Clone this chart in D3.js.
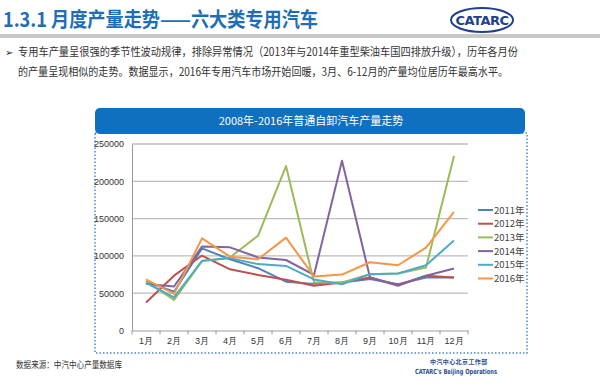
<!DOCTYPE html>
<html>
<head>
<meta charset="utf-8">
<script src="https://cdn.jsdelivr.net/npm/d3@7"></script>
<style>
  body { margin: 0; background: #fff; }
  svg { display: block; font-family: "Noto Sans CJK SC", "Noto Sans", sans-serif; }
</style>
</head>
<body>
<div id="chart"></div>
<script>
// data
const months = ["1月", "2月", "3月", "4月", "5月", "6月", "7月", "8月", "9月", "10月", "11月", "12月"];
const seriesNames = ["2011年", "2012年", "2013年", "2014年", "2015年", "2016年"];
const seriesColors = ["#4F81BD", "#C0504D", "#9BBB59", "#8064A2", "#4BACC6", "#F79646"];
const v2011 = [65500, 52000, 110000, 95500, 83500, 65500, 62500, 64500, 69000, 62000, 71000, 71000];
const v2012 = [37500, 73500, 100500, 82000, 74500, 68000, 60000, 64500, 71000, 61000, 73500, 71000];
const v2013 = [66000, 41000, 93000, 98000, 127000, 220500, 64500, 64500, 75500, 76500, 84500, 234000];
const v2014 = [62500, 59000, 112500, 111500, 98000, 94500, 74500, 227500, 71000, 60000, 73500, 83000];
const v2015 = [64000, 44500, 93500, 97000, 89000, 86500, 68500, 62000, 75500, 76500, 87500, 120500];
const v2016 = [68500, 49000, 123500, 99000, 95500, 124500, 72500, 75000, 91500, 87500, 111000, 159000];
const yTicks = [0, 50000, 100000, 150000, 200000, 250000];

const bulletLines = [
  "专用车产量呈很强的季节性波动规律，排除异常情况（2013年与2014年重型柴油车国四排放升级），历年各月份",
  "的产量呈现相似的走势。数据显示，2016年专用汽车市场开始回暖，3月、6-12月的产量均位居历年最高水平。"
];

const series = [v2011, v2012, v2013, v2014, v2015, v2016].map((values, i) => ({
  name: seriesNames[i], color: seriesColors[i], values
}));

const W = 600, H = 386;
const svg = d3.select("#chart").append("svg").attr("width", W).attr("height", H);

// page title
svg.append("text")
  .attr("x", 3).attr("y", 27)
  .attr("fill", "#1F6DB5")
  .attr("font-size", 20).attr("font-weight", "bold")
  .attr("textLength", 315).attr("lengthAdjust", "spacingAndGlyphs")
  .text("1.3.1 月度产量走势——六大类专用汽车");

svg.append("rect").attr("x", 0).attr("y", 34).attr("width", W).attr("height", 4).attr("fill", "#c8c8c8");

// CATARC logo
const logo = svg.append("g").attr("transform", "translate(482,20)");
logo.append("ellipse").attr("rx", 31).attr("ry", 12)
  .attr("fill", "#fff").attr("stroke", "#1F3F8F").attr("stroke-width", 2);
logo.append("text").attr("text-anchor", "middle").attr("y", 5)
  .attr("font-size", 13).attr("font-weight", "bold").attr("fill", "#1F3F8F")
  .attr("font-family", "DejaVu Sans").attr("letter-spacing", -0.5)
  .text("CATARC");

// bullet paragraph
svg.append("text").attr("x", 5).attr("y", 55.5).attr("font-size", 10)
  .attr("font-family", "DejaVu Sans").attr("fill", "#222").text("➢");
svg.selectAll("text.para").data(bulletLines).join("text")
  .attr("class", "para")
  .attr("x", 18).attr("y", (d, i) => 55.5 + i * 20)
  .attr("font-size", 11.5).attr("fill", "#333")
  .attr("textLength", (d, i) => i === 0 ? 500 : 490)
  .attr("lengthAdjust", "spacingAndGlyphs")
  .text(d => d);

// chart box
const box = { x: 95, y: 108, w: 432, h: 245 };
svg.append("rect")
  .attr("x", box.x).attr("y", 133).attr("width", box.w).attr("height", box.y + box.h - 133)
  .attr("fill", "#fff").attr("stroke", "#4A86D6").attr("stroke-width", 1.5)
  .attr("stroke-dasharray", "1.5,2");
svg.append("rect")
  .attr("x", box.x).attr("y", box.y).attr("width", box.w - 2).attr("height", 26)
  .attr("rx", 5).attr("fill", "#0F70C0");
svg.append("text")
  .attr("x", box.x + box.w / 2).attr("y", 125)
  .attr("text-anchor", "middle").attr("fill", "#fff").attr("font-size", 11)
  .text("2008年-2016年普通自卸汽车产量走势");

// scales
const plot = { left: 132, right: 468, top: 144, bottom: 330.5 };
const x = d3.scaleBand().domain(months).range([plot.left, plot.right]);
const y = d3.scaleLinear().domain([0, 250000]).range([plot.bottom, plot.top]);

// gridlines
svg.append("g").selectAll("line").data(yTicks.slice(1)).join("line")
  .attr("x1", plot.left).attr("x2", plot.right)
  .attr("y1", d => y(d)).attr("y2", d => y(d))
  .attr("stroke", "#bdbdbd").attr("stroke-width", 1.3);

// y axis
const yAxis = svg.append("g")
  .attr("transform", `translate(${plot.left},0)`)
  .call(d3.axisLeft(y).tickValues(yTicks).tickSize(0).tickPadding(8).tickFormat(d3.format("d")));
yAxis.select(".domain").attr("stroke", "#9a9a9a");
yAxis.selectAll("text").attr("font-size", 9).attr("fill", "#333").attr("font-family", "Liberation Sans, Arial, sans-serif");

// x axis
const xAxis = svg.append("g")
  .attr("transform", `translate(0,${plot.bottom})`)
  .call(d3.axisBottom(x).tickSize(0).tickPadding(7));
xAxis.select(".domain").attr("stroke", "#9a9a9a");
xAxis.selectAll("text").attr("font-size", 9).attr("fill", "#333");
xAxis.selectAll("line.bnd").data(months.concat([null])).join("line")
  .attr("class", "bnd")
  .attr("x1", (d, i) => plot.left + i * x.bandwidth())
  .attr("x2", (d, i) => plot.left + i * x.bandwidth())
  .attr("y1", 0).attr("y2", 4)
  .attr("stroke", "#9a9a9a");

// lines
const line = d3.line()
  .x((d, i) => x(months[i]) + x.bandwidth() / 2)
  .y(d => y(d));
svg.append("g").selectAll("path").data(series).join("path")
  .attr("d", d => line(d.values))
  .attr("fill", "none")
  .attr("stroke", d => d.color)
  .attr("stroke-width", 2)
  .attr("stroke-linejoin", "round");

// legend
const legend = svg.append("g").selectAll("g").data(series).join("g")
  .attr("transform", (d, i) => `translate(478,${210 + i * 13.7})`);
legend.append("line").attr("x1", 0).attr("x2", 15)
  .attr("stroke", d => d.color).attr("stroke-width", 2);
legend.append("text").attr("x", 16).attr("y", 3.5)
  .attr("font-size", 9.5).attr("fill", "#444").text(d => d.name);

// footer
svg.append("text").attr("x", 16).attr("y", 368)
  .attr("font-size", 9).attr("fill", "#333")
  .attr("textLength", 106).attr("lengthAdjust", "spacingAndGlyphs")
  .text("数据来源：中汽中心产量数据库");
svg.append("text").attr("x", 430).attr("y", 364)
  .attr("font-size", 6).attr("font-weight", "bold")
  .attr("fill", "#2B4F8F").attr("letter-spacing", 0.4)
  .text("中汽中心北京工作部");
svg.append("text").attr("x", 415).attr("y", 374)
  .attr("font-size", 7).attr("font-weight", "bold")
  .attr("fill", "#2B4F8F").attr("font-family", "DejaVu Sans")
  .attr("textLength", 82).attr("lengthAdjust", "spacingAndGlyphs")
  .text("CATARC's Beijing Operations");
</script>
</body>
</html>
